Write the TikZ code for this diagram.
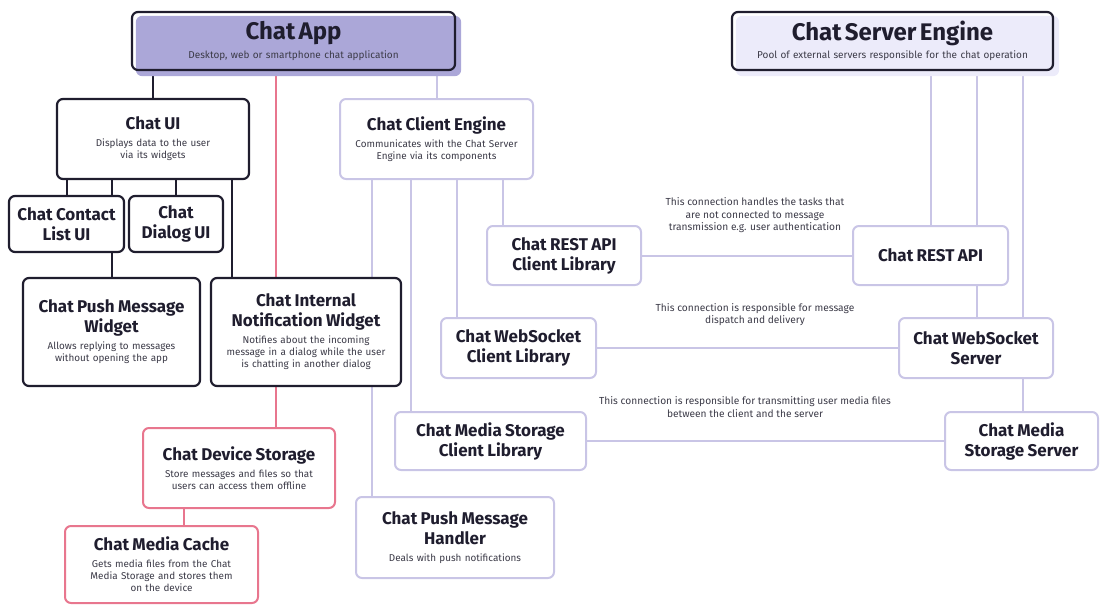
\documentclass[tikz,border=0pt]{standalone}
\usepackage{fontspec}
\setmainfont{Fira Sans}
\usetikzlibrary{backgrounds}
\definecolor{dk}{HTML}{1F1D2E}
\definecolor{lav}{HTML}{C9C5E6}
\definecolor{pk}{HTML}{E8768E}
\definecolor{appf}{HTML}{ABA7D8}
\definecolor{srvf}{HTML}{ECEBFA}
\definecolor{dsc}{HTML}{3C3B48}
\newcommand\ttl[1]{{\fontsize{17}{20}\selectfont\bfseries #1\par}}
\newcommand\dsct[1]{{\vspace{5pt}\fontsize{9.9}{12}\selectfont\color{dsc}#1\par}}
\newcommand\bigttl[1]{{\fontsize{24}{26}\selectfont\bfseries #1\par}}
\newcommand\bigdsc[1]{{\vspace{4pt}\fontsize{10}{12}\selectfont\color{dsc}#1\par}}
\begin{document}
\begin{tikzpicture}[x=1pt,y=-1pt,
  box/.style={rounded corners=6pt, fill=white, inner sep=0pt, align=center, text=dk},
  dkbox/.style={box, draw=dk, line width=2.2pt},
  lvbox/.style={box, draw=lav, line width=2pt},
  pkbox/.style={box, draw=pk, line width=2pt},
  sz/.style 2 args={minimum width=#1, minimum height=#2, text width=#1-8pt},
  dkline/.style={draw=dk, line width=2.2pt},
  lvline/.style={draw=lav, line width=2pt},
  pkline/.style={draw=pk, line width=2pt},
  lab/.style={font=\fontsize{10.2}{12.5}\selectfont, text=dsc, align=center, inner sep=0pt}]
\useasboundingbox (0,0) rectangle (1100,605);

% top boxes
\node[box, fill=none, draw=dk, line width=2.2pt, sz={323}{58}] (app) at (293.5,41)
  {\bigttl{Chat App}\bigdsc{Desktop, web or smartphone chat application}};
\node[box, fill=none, draw=dk, line width=2.2pt, sz={321}{58}] (server) at (892.5,41)
  {\bigttl{Chat Server Engine}\bigdsc{Pool of external servers responsible for the chat operation}};

% UI side
\node[dkbox, sz={192}{80}] (ui) at (153,139)
  {\ttl{Chat UI}\dsct{Displays data to the user\\via its widgets}};
\node[dkbox, sz={115}{56}] (contact) at (66.5,224) {\ttl{Chat Contact\\List UI}};
\node[dkbox, sz={94}{56}] (dialog) at (176,224) {\ttl{Chat\\Dialog UI}};
\node[dkbox, sz={177}{108}] (pushw) at (111.5,332)
  {\ttl{Chat Push Message\\Widget}\dsct{Allows replying to messages\\without opening the app}};
\node[dkbox, sz={190}{108}] (notif) at (306,332)
  {\ttl{Chat Internal\\Notification Widget}\dsct{Notifies about the incoming\\message in a dialog while the user\\is chatting in another dialog}};

% storage side
\node[pkbox, sz={192}{80}] (device) at (239,468)
  {\ttl{Chat Device Storage}\dsct{Store messages and files so that\\users can access them offline}};
\node[pkbox, sz={193}{77}] (cache) at (161.5,564.5)
  {\ttl{Chat Media Cache}\dsct{Gets media files from the Chat\\Media Storage and stores them\\on the device}};

% client engine side
\node[lvbox, sz={193}{80}] (client) at (436.5,139)
  {\ttl{Chat Client Engine}\dsct{Communicates with the Chat Server\\Engine via its components}};
\node[lvbox, sz={154}{59}] (restc) at (564,255.5) {\ttl{Chat REST API\\Client Library}};
\node[lvbox, sz={155}{60}] (wsc) at (518.5,348) {\ttl{Chat WebSocket\\Client Library}};
\node[lvbox, sz={191}{58}] (mediac) at (490.5,441) {\ttl{Chat Media Storage\\Client Library}};
\node[lvbox, sz={198}{81}] (handler) at (455,537.5)
  {\ttl{Chat Push Message\\Handler}\dsct{Deals with push notifications}};

% server side
\node[lvbox, sz={155}{59}] (rests) at (930.5,255.5) {\ttl{Chat REST API}};
\node[lvbox, sz={154}{60}] (wss) at (976,348) {\ttl{Chat WebSocket\\Server}};
\node[lvbox, sz={153}{58}] (medias) at (1021.5,441) {\ttl{Chat Media\\Storage Server}};

% connection labels
\node[lab] (lab1) at (755,215.5) {This connection handles the tasks that\\are not connected to message\\transmission e.g. user authentication};
\node[lab] (lab2) at (755,314.5) {This connection is responsible for message\\dispatch and delivery};
\node[lab] (lab3) at (745,407) {This connection is responsible for transmitting user media files\\between the client and the server};

% x positions
\coordinate (x67) at (67,0);
\coordinate (x112) at (112,0);
\coordinate (x153) at (153,0);
\coordinate (x176) at (176,0);
\coordinate (x184) at (184,0);
\coordinate (x232) at (232,0);
\coordinate (x276) at (276,0);
\coordinate (x372) at (372,0);
\coordinate (x411) at (411,0);
\coordinate (x437) at (437,0);
\coordinate (x457) at (457,0);
\coordinate (x503) at (503,0);
\coordinate (x931) at (931,0);
\coordinate (x977) at (977,0);
\coordinate (x1023) at (1023,0);

\begin{scope}[on background layer]
  \draw[dkline] (app.south -| x153) -- (ui.north -| x153);
  \draw[dkline] (ui.south -| x67) -- (contact.north -| x67);
  \draw[dkline] (ui.south -| x112) -- (pushw.north -| x112);
  \draw[dkline] (ui.south -| x176) -- (dialog.north -| x176);
  \draw[dkline] (ui.south -| x232) -- (notif.north -| x232);
  \draw[pkline] (app.south -| x276) -- (device.north -| x276);
  \draw[pkline] (device.south -| x184) -- (cache.north -| x184);
  \draw[lvline] (app.south -| x437) -- (client.north -| x437);
  \draw[lvline] (client.south -| x372) -- (handler.north -| x372);
  \draw[lvline] (client.south -| x411) -- (mediac.north -| x411);
  \draw[lvline] (client.south -| x457) -- (wsc.north -| x457);
  \draw[lvline] (client.south -| x503) -- (restc.north -| x503);
  \draw[lvline] (restc.east) -- (rests.west);
  \draw[lvline] (wsc.east) -- (wss.west);
  \draw[lvline] (mediac.east) -- (medias.west);
  \draw[lvline] (server.south -| x931) -- (rests.north -| x931);
  \draw[lvline] (server.south -| x977) -- (wss.north -| x977);
  \draw[lvline] (server.south -| x1023) -- (medias.north -| x1023);
  \fill[appf, rounded corners=6pt] ([xshift=5pt,yshift=-5pt]app.north west) rectangle ([xshift=5pt,yshift=-5pt]app.south east);
  \fill[srvf, rounded corners=6pt] ([xshift=5pt,yshift=-5pt]server.north west) rectangle ([xshift=5pt,yshift=-5pt]server.south east);
\end{scope}
\end{tikzpicture}
\end{document}
